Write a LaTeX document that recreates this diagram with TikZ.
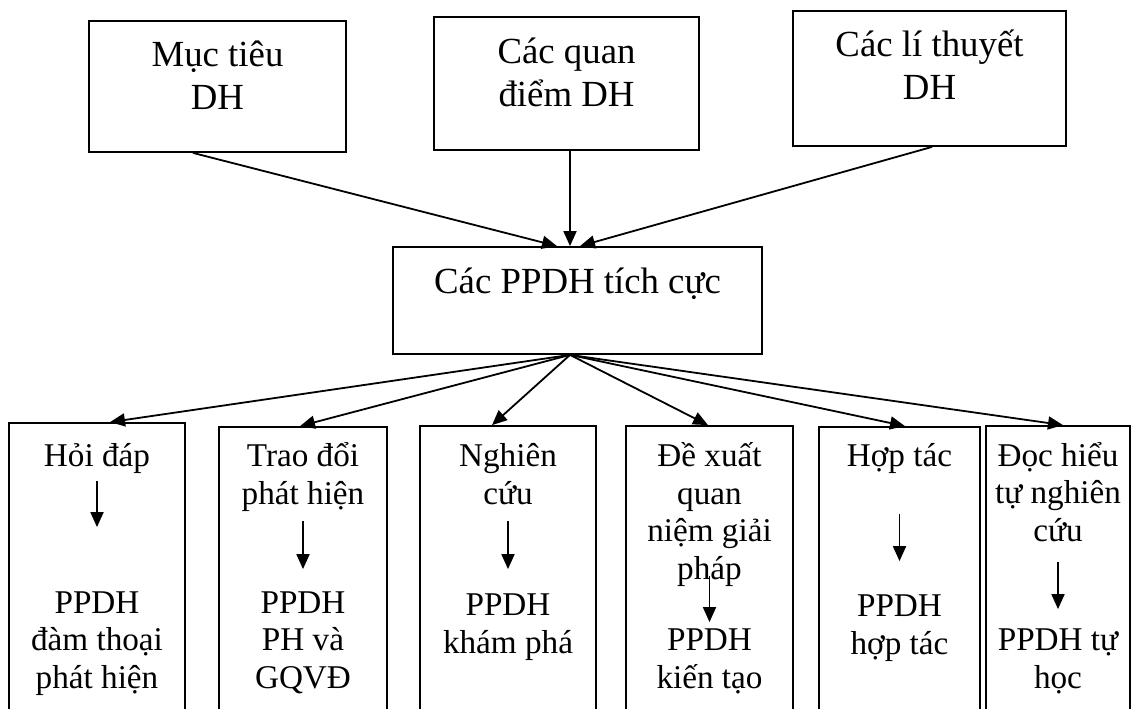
\documentclass[tikz,border=0pt]{standalone}
\usepackage{fontspec}
\setmainfont{Liberation Serif}
\usetikzlibrary{arrows.meta, fit}

\begin{document}
\begin{tikzpicture}[
  x=0.5pt, y=-0.5pt,
  every node/.style={align=center, inner sep=0pt},
  boxed/.style={draw, line width=0.9pt},
  head/.style={font=\fontsize{18.4}{21.5}\selectfont, anchor=base},
  cell/.style={font=\fontsize{16.6}{18.75}\selectfont, anchor=base},
  arr/.style={line width=0.9pt, -{Triangle[length=7.5pt, width=6.5pt]}}
]
\useasboundingbox (0,0) rectangle (1139,708);
\clip (0,0) rectangle (1139,708);

% ── top row: what the methods are built on ──────────────────────────
\node[boxed, fit={(89,21) (346,152)}] (goal) {};
\node[boxed, fit={(434,17) (699,150)}] (view) {};
\node[boxed, fit={(793,11) (1066,146)}] (theory) {};
\node[head] (goal-t) at (217.5,109) {Mục tiêu\\DH};
\node[head] (view-t) at (566.5,106) {Các quan\\điểm DH};
\node[head] (theory-t) at (929.5,99) {Các lí thuyết\\DH};

% ── centre box ──────────────────────────────────────────────────────
\node[boxed, fit={(393,247) (762,354)}] (active) {};
\node[head] (active-t) at (577.5,293) {Các PPDH tích cực};

\draw[arr] ([xshift=-12.25pt]goal.south) -- ([xshift=-10.25pt]active.north);
\draw[arr] ([xshift=1.75pt]view.south) -- ([xshift=-3.75pt]active.north);
\draw[arr] ([xshift=1.25pt]theory.south) -- ([xshift=1.25pt]active.north);

% ── bottom row: six columns, cut off at the page edge ───────────────
\node[boxed, fit={(9,423) (185,730)}] (ask) {};
\node[boxed, fit={(219,427) (387,730)}] (discuss) {};
\node[boxed, fit={(420,426) (596,730)}] (research) {};
\node[boxed, fit={(626,426) (793,730)}] (propose) {};
\node[boxed, fit={(819,427) (980,730)}] (coop) {};
\node[boxed, fit={(986,426) (1130,730)}] (self) {};

\draw[arr] ([xshift=-3.75pt]active.south) -- ([xshift=6.5pt]ask.north);
\draw[arr] ([xshift=-3.75pt]active.south) -- ([xshift=-1.5pt]discuss.north);
\draw[arr] ([xshift=-3.75pt]active.south) -- ([xshift=-8pt]research.north);
\draw[arr] ([xshift=-3.75pt]active.south) -- ([xshift=-0.75pt]propose.north);
\draw[arr] ([xshift=-3.75pt]active.south) -- ([xshift=2.75pt]coop.north);
\draw[arr] ([xshift=-3.75pt]active.south) -- ([xshift=2.5pt]self.north);

% activity above, method below
\node[cell] (ask-a) at (97,466) {Hỏi đáp};
\node[cell] (ask-m) at (97,688) {PPDH\\đàm thoại\\phát hiện};
\node[cell] (discuss-a) at (303,504) {Trao đổi\\phát hiện};
\node[cell] (discuss-m) at (303,688) {PPDH\\PH và\\GQVĐ};
\node[cell] (research-a) at (508,504) {Nghiên\\cứu};
\node[cell] (research-m) at (508,653) {PPDH\\khám phá};
\node[cell] (propose-a) at (709.5,579) {Đề xuất\\quan\\niệm giải\\pháp};
\node[cell] (propose-m) at (709.5,688) {PPDH\\kiến tạo};
\node[cell] (coop-a) at (899.5,466) {Hợp tác};
\node[cell] (coop-m) at (899.5,654) {PPDH\\hợp tác};
\node[cell] (self-a) at (1058,541) {Đọc hiểu\\tự nghiên\\cứu};
\node[cell] (self-m) at (1058,688) {PPDH tự\\học};

\draw[arr] ([yshift=-29.5pt]ask.north) -- ([yshift=-52.5pt]ask.north);
\draw[arr] ([yshift=-47.5pt]discuss.north) -- ([yshift=-71.5pt]discuss.north);
\draw[arr] ([yshift=-48pt]research.north) -- ([yshift=-72pt]research.north);
\draw[arr] ([yshift=-75.5pt]propose.north) -- ([yshift=-98.5pt]propose.north);
\draw[arr] ([yshift=-44pt]coop.north) -- ([yshift=-67.5pt]coop.north);
\draw[arr] ([yshift=-68.5pt]self.north) -- ([yshift=-92pt]self.north);

\end{tikzpicture}
\end{document}
